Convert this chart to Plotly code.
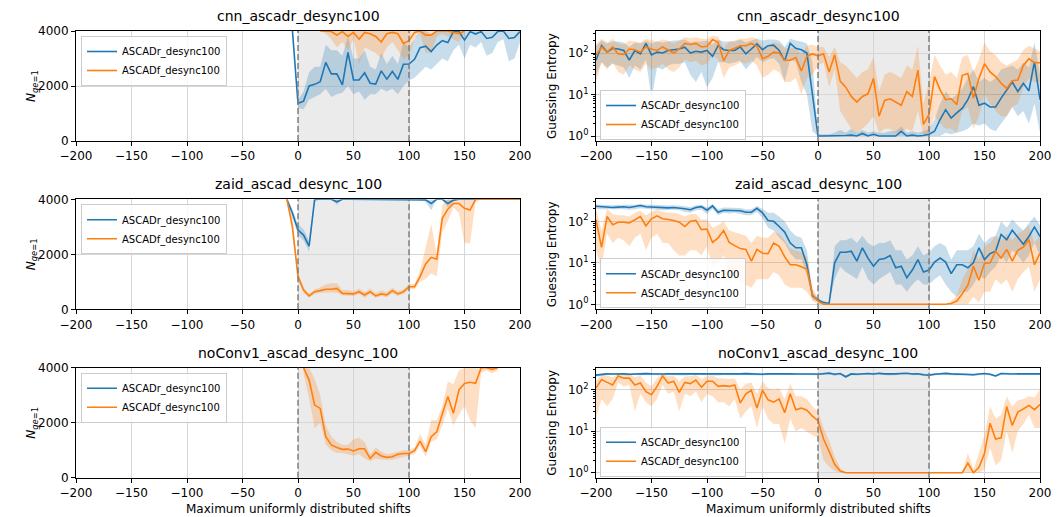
import numpy as np
import plotly.graph_objects as go

NA = None

SHIFTS = [-200, -195, -190, -185, -180, -175, -170, -165, -160, -155, -150, -145, -140, -135, -130,
          -125, -120, -115, -110, -105, -100, -95, -90, -85, -80, -75, -70, -65, -60, -55, -50, -45,
          -40, -35, -30, -25, -20, -15, -10, -5, 0, 5, 10, 15, 20, 25, 30, 35, 40, 45, 50, 55, 60, 65,
          70, 75, 80, 85, 90, 95, 100, 105, 110, 115, 120, 125, 130, 135, 140, 145, 150, 155, 160,
          165, 170, 175, 180, 185, 190, 195, 200]
X_TICKS = [-200, -150, -100, -50, 0, 50, 100, 150, 200]
X_TICK_TEXT = ["\u2212200", "\u2212150", "\u2212100", "\u221250", "0", "50", "100", "150", "200"]
N_TICKS = [0, 2000, 4000]
GE_TICKS = [1, 10, 100]
GE_TICK_TEXT = ["10<sup>0</sup>", "10<sup>1</sup>", "10<sup>2</sup>"]
GE_MINOR = [2, 3, 4, 5, 6, 7, 8, 9, 20, 30, 40, 50, 60, 70, 80, 90, 200, 300]
SERIES_NAMES = ["ASCADr_desync100", "ASCADf_desync100"]
TITLES = ["cnn_ascadr_desync100", "zaid_ascad_desync_100", "noConv1_ascad_desync_100"]

# ---------------- cnn : Guessing entropy ----------------
cnn_r_ge = [67, 152, 105, 130, 125, 115, 67, 115, 95, 170, 90, 105, 100, 115, 120, 125, 138, 100, 110, 105,
            115, 83, 150, 120, 115, 115, 140, 95, 125, 165, 120, 150, 155, 115, 65, 170, 130, 120, 100,
            8.9, 1.0,
            1.0, 1.0, 1.02, 1.0, 1.03, 1.05, 1.0, 1.15, 1.0, 1.1, 1.0, 1.0, 1.02, 1.0, 1.3, 1.0, 1.05, 1.0, 1.03,
            1.1, 1.3, 2.5, 4.3, 2.7, 3.6, 4.7, 7.5, 15.5, 5.5, 6.2, 5.0, 5.0, 8.2, 13, 20, 11.8, 18.6, 12.2, 61, 7.5]
cnn_r_ge_lo = [30, 60, 45, 55, 50, 45, 25, 50, 40, 70, 8, 45, 40, 50, 55, 55, 60, 30, 20, 35,
               15, 25, 60, 60, 55, 60, 65, 40, 55, 80, 60, 70, 75, 55, 20, 70, 60, 20, 10,
               1.3, 1.0,
               1, 1, 1, 1, 1, 1, 1, 1, 1, 1, 1, 1, 1, 1, 1, 1, 1, 1, 1,
               1, 1, 1, 1.2, 1.1, 1.2, 1.3, 1.5, 2, 1.8, 2, 1.5, 1.3, 2, 3, 5, 3, 4, 2, 6, 1.2]
cnn_r_ge_hi = [150, 200, 170, 190, 190, 180, 140, 180, 170, 200, 170, 190, 180, 190, 200, 200, 210, 180, 190, 190,
               200, 160, 210, 190, 190, 190, 210, 180, 200, 220, 200, 210, 210, 200, 140, 220, 200, 190, 170,
               60, 1.1,
               1.1, 1.1, 1.2, 1.4, 1.2, 1.5, 1.2, 1.4, 1.2, 1.3, 1.2, 1.2, 1.3, 1.3, 1.7, 1.2, 1.3, 1.2, 1.3,
               1.5, 2.5, 6, 12, 8, 10, 14, 25, 40, 20, 25, 20, 25, 40, 45, 50, 40, 60, 45, 180, 30]
cnn_f_ge = [88, 140, 105, 140, 95, 92, 125, 120, 105, 140, 125, 115, 140, 120, 100, 125, 170, 160, 170, 140,
            145, 210, 180, 65, 115, 130, 150, 150, 170, 145, 73, 83, 105, 100, 67, 67, 78, 37, 83, 95,
            85, 96, 35, 91, 21, 15, 9, 6.6, 9, 10.4, 24.5, 3.0, 7.2, 7.9, 6.6, 5.5, 11.8, 9, 38.6, 1.9,
            3.3, 27, 13, 7.5, 7.9, 5.7, 29, 32, 8.2, 24.5, 55, 35, 27, 18.6, 14, 21.5, 22.4, 50, 73, 58, 58]
cnn_f_ge_lo = [20, 60, 40, 60, 35, 30, 50, 40, 35, 55, 40, 45, 55, 40, 35, 45, 70, 60, 65, 50,
               55, 90, 70, 25, 45, 50, 60, 55, 65, 50, 25, 30, 40, 35, 20, 20, 25, 10, 25, 30,
               50, 60, 15, 40, 4, 2.5, 1.5, 1.2, 1.5, 2, 3, 1.2, 1.5, 1.5, 1.2, 1.3, 1.5, 1.3, 4, 1.0,
               1.2, 3, 2, 1.5, 1.5, 1.2, 4, 5, 1.5, 3, 10, 6, 4, 3, 3, 5, 6, 15, 25, 20, 20]
cnn_f_ge_hi = [160, 220, 180, 220, 170, 160, 200, 190, 180, 220, 200, 190, 210, 200, 170, 200, 240, 230, 240, 220,
               220, 260, 250, 130, 190, 200, 220, 220, 240, 220, 140, 150, 180, 170, 130, 130, 140, 90, 150, 160,
               140, 140, 80, 140, 60, 50, 35, 25, 35, 40, 80, 12, 30, 35, 30, 25, 50, 40, 150, 6,
               20, 90, 50, 30, 35, 25, 80, 90, 35, 70, 180, 110, 90, 60, 50, 60, 70, 120, 150, 130, 110]

# ---------------- cnn : N_ge=1 ----------------
cnn_r_n = [NA] * 39 + [4000] + [
    1370, 1450, 2000, 2060, 2160, 2860, 2440, 2440, 2040, 3220, 2220, 2220, 2480, 2100, 2070, 2550, 2250, 2530,
    2240, 2790, 2800, 2970, 3390, 3450, 3250, 3490, 3650, 3580, 3980, 3980, 3670, 3980, 3890, 3980, 3730, 3770,
    3980, 4000, 3730, 3760, 3980]
cnn_r_n_lo = [NA] * 39 + [4000] + [
    1200, 1150, 1500, 1600, 1700, 1900, 1600, 1700, 1750, 2000, 1700, 1800, 1500, 1700, 1700, 1900, 1800, 1900,
    1700, 2000, 2200, 2300, 2500, 2700, 2600, 2800, 3000, 2900, 3300, 3500, 3000, 3500, 3400, 3600, 3100, 3200,
    3600, 3700, 2900, 3000, 3600]
cnn_r_n_hi = [NA] * 39 + [4000] + [
    1500, 1800, 2500, 2700, 2700, 3500, 3300, 3300, 3100, 3800, 3000, 3000, 3300, 2700, 2600, 3200, 2800, 3100,
    2800, 3600, 3400, 3700, 4000, 4000, 3900, 4000, 4000, 4000, 4000, 4000, 4000, 4000, 4000, 4000, 4000, 4000,
    4000, 4000, 4000, 4000, 4000]
cnn_f_n = [NA] * 44 + [
    4000, 4000, 3980, 3850, 3980, 3800, 3950, 3700, 3950, 3900, 3800, 3600, 3900, 3950, 3900, 3550, 3650, 3950,
    4000, 3850, 3850, 4000, 4000, 4000, 3950, 3900, 4000] + [NA] * 10
cnn_f_n_lo = [NA] * 44 + [
    4000, 3900, 3700, 3400, 3600, 3300, 3700, 2800, 3400, 3300, 3200, 3000, 3400, 3600, 3300, 3000, 3100, 3700,
    3900, 3200, 3200, 3800, 3900, 3800, 3700, 3600, 3900] + [NA] * 10
cnn_f_n_hi = [NA] * 44 + [4000] * 27 + [NA] * 10

# ---------------- zaid : Guessing entropy ----------------
zaid_r_ge = [230, 225, 225, 215, 220, 225, 215, 225, 240, 225, 220, 215, 212, 210, 215, 210, 200, 190, 215, 225,
             185, 235, 165, 185, 185, 185, 180, 165, 165, 205, 160, 105, 100, 75, 55, 30, 23, 23, 9, 1.6,
             1.27, 1.1, 1.05, 10, 18, 18, 19, 11, 23, 13, 8.3, 12, 12.7, 15, 7.6, 8.3, 4.4, 6.7, 12, 6,
             6.7, 10.4, 13, 10.4, 5.5, 9, 9, 7.6, 10, 23, 12, 16.7, 19, 48, 36, 61, 40, 28, 43, 73, 43]
zaid_r_ge_lo = [200, 195, 195, 190, 195, 195, 190, 195, 205, 195, 195, 190, 185, 185, 190, 185, 170, 160, 185, 190,
                150, 200, 140, 160, 155, 160, 150, 140, 140, 170, 120, 70, 60, 40, 30, 17, 12, 12, 5, 1.3,
                1.15, 1.05, 1.0, 4, 8, 6, 5, 4, 8, 4, 3, 4, 5, 6, 3, 3, 2, 3, 4, 3,
                3, 4, 5, 3, 2, 1.5, 2, 2, 3, 5, 4, 6, 8, 15, 10, 20, 15, 10, 15, 30, 15]
zaid_r_ge_hi = [255, 250, 250, 245, 250, 250, 245, 250, 265, 250, 250, 245, 240, 240, 245, 240, 230, 220, 245, 250,
                215, 260, 195, 215, 215, 215, 210, 195, 195, 235, 200, 160, 160, 130, 100, 60, 45, 40, 20, 2,
                1.4, 1.2, 1.1, 25, 35, 35, 40, 30, 45, 30, 25, 30, 30, 35, 20, 20, 12, 15, 25, 15,
                18, 25, 30, 25, 12, 20, 20, 20, 25, 50, 30, 40, 45, 100, 70, 110, 80, 60, 90, 130, 80]
zaid_f_ge = [110, 23.5, 130, 83, 95, 95, 91, 110, 130, 78, 115, 135, 115, 110, 105, 95, 75, 100, 105, 63,
             65, 31, 40, 60, 31, 26, 22, 21, 11, 21, 17, 16.7, 30, 25, 14, 9, 9, 8, 7, 1.7,
             1.2] + [1.0] * 23 + [
             1.05, 1.2, 1.8, 2.9, 8.3, 3.8, 9.7, 10, 19, 13, 21, 11, 20, 24, 36, 9, 17]
zaid_f_ge_lo = [20, 8, 50, 30, 40, 35, 25, 40, 50, 20, 40, 50, 30, 30, 20, 15, 15, 20, 20, 15,
                25, 8, 10, 15, 5, 4, 3.5, 3, 2.5, 4, 4, 4, 6, 5, 3, 2.5, 2.5, 2.5, 2, 1.2,
                1.0] + [1.0] * 23 + [
                1.0, 1.0, 1.0, 1.0, 1.5, 1.1, 2, 2, 4, 3, 4, 2, 4, 6, 8, 2, 4]
zaid_f_ge_hi = [200, 60, 200, 150, 140, 140, 130, 160, 180, 140, 170, 190, 170, 160, 160, 150, 130, 150, 150, 110,
                110, 70, 80, 100, 60, 55, 50, 45, 30, 45, 40, 40, 55, 50, 35, 22, 20, 18, 14, 2.5,
                1.4] + [1.02] * 23 + [
                1.2, 1.6, 4, 7, 20, 12, 25, 30, 45, 35, 50, 35, 50, 60, 80, 30, 45]

# ---------------- zaid : N_ge=1 ----------------
zaid_r_n = [NA] * 38 + [4000, 3490] + [
    2880, 2700, 2300, 4000, 4000, 4000, 4000, 3910] + [4000] * 15 + [
    3980, 3850, 4000, 4000, 3850, 3970] + [4000] * 12
zaid_r_n_lo = [NA] * 38 + [4000, 3300] + [
    2700, 2500, 2100, 3900, 4000, 4000, 4000, 3800] + [4000] * 15 + [
    3900, 3600, 4000, 4000, 3700, 3900] + [4000] * 12
zaid_r_n_hi = [NA] * 38 + [4000, 3650] + [
    3100, 2900, 2500, 4000, 4000, 4000, 4000, 4000] + [4000] * 15 + [
    4000, 4000, 4000, 4000, 4000, 4000] + [4000] * 12
zaid_f_n = [NA] * 38 + [4000, 3000] + [
    1190, 700, 485, 640, 680, 730, 730, 760, 580, 580, 560, 640, 520, 640, 485, 560, 520, 680, 560, 640,
    820, 820, 1190, 1650, 1890, 1820, 3310, 3640, 3850, 3850, 3670, 3610, 4000, 4000, 4000, 4000, 4000, 4000,
    4000, 4000, 4000]
zaid_f_n_lo = [NA] * 38 + [4000, 2700] + [
    1050, 600, 420, 560, 600, 600, 620, 600, 500, 500, 480, 560, 420, 560, 420, 480, 440, 580, 480, 560,
    720, 720, 1000, 1100, 1300, 1200, 2800, 3200, 3700, 3500, 2400, 2400, 3900, 4000, 4000, 4000, 4000, 4000,
    4000, 4000, 4000]
zaid_f_n_hi = [NA] * 38 + [4000, 3300] + [
    1350, 800, 560, 720, 800, 900, 950, 950, 700, 700, 650, 760, 620, 760, 580, 680, 620, 780, 660, 720,
    920, 920, 1400, 2300, 3100, 2000, 3800, 4000, 4000, 4000, 4000, 4000, 4000, 4000, 4000, 4000, 4000, 4000,
    4000, 4000, 4000]

# ---------------- noConv1 : Guessing entropy ----------------
noconv_r_ge = [225, 235, 240, 238, 242, 240, 236, 240, 238, 244, 240, 236, 238, 240, 242, 238, 236, 240, 243, 240,
               238, 240, 237, 240, 242, 238, 240, 244, 240, 238, 236, 240, 242, 240, 238, 240, 239, 241, 240, 238,
               236, 245, 250, 235, 245, 205, 240, 235, 240, 245, 238, 248, 240, 236, 240, 245, 250, 238, 242, 230,
               225, 235, 245, 248, 240, 236, 242, 238, 230, 238, 245, 236, 214, 245, 240, 238, 242, 240, 238, 240, 240]
noconv_r_ge_lo = [205, 220, 225, 222, 228, 226, 220, 225, 222, 230, 226, 220, 222, 225, 228, 222, 220, 225, 228, 226,
                  222, 226, 221, 225, 228, 222, 225, 230, 226, 222, 220, 225, 228, 225, 222, 226, 224, 226, 225, 222,
                  220, 230, 235, 215, 230, 190, 225, 220, 225, 230, 222, 233, 225, 220, 225, 230, 235, 222, 227, 215,
                  210, 220, 230, 233, 225, 220, 227, 222, 215, 222, 230, 220, 200, 230, 225, 222, 227, 225, 222, 225, 225]
noconv_r_ge_hi = [240, 248, 252, 250, 254, 252, 248, 252, 250, 256, 252, 248, 250, 252, 254, 250, 248, 252, 255, 252,
                  250, 252, 249, 252, 254, 250, 252, 256, 252, 250, 248, 252, 254, 252, 250, 252, 251, 253, 252, 250,
                  248, 256, 256, 248, 256, 220, 252, 248, 252, 256, 250, 256, 252, 248, 252, 256, 256, 250, 254, 244,
                  238, 248, 256, 256, 252, 248, 254, 250, 244, 250, 256, 248, 228, 256, 252, 250, 254, 252, 250, 252, 252]
noconv_f_ge = [110, 175, 150, 130, 215, 190, 190, 130, 145, 90, 76, 120, 215, 145, 160, 86, 150, 140, 170, 115,
               160, 160, 120, 125, 120, 130, 48, 80, 97, 36, 97, 57, 50, 60, 28, 80, 33, 36, 32, 23,
               18, 6.5, 3.3, 1.6, 1.1] + [1.0] * 22 + [
               1.7, 1.0, 1.35, 2.9, 15.6, 6.5, 6.9, 39.5, 13.7, 28.8, 34.6, 41.7, 33, 44]
noconv_f_ge_lo = [20, 60, 40, 60, 150, 120, 130, 30, 80, 50, 40, 60, 130, 80, 90, 30, 80, 70, 90, 50,
                  80, 70, 50, 50, 40, 60, 20, 30, 40, 12, 40, 20, 15, 15, 5, 20, 10, 12, 10, 8,
                  7, 2, 1.4, 1.1, 1.0] + [1.0] * 22 + [
                  1.0, 1.0, 1.0, 1.2, 4, 1.5, 2, 10, 3, 10, 15, 25, 12, 12]
noconv_f_ge_hi = [160, 230, 220, 200, 240, 240, 240, 200, 220, 150, 120, 190, 245, 210, 220, 160, 210, 210, 230, 180,
                  210, 220, 190, 190, 180, 190, 100, 140, 150, 80, 160, 110, 100, 110, 60, 140, 70, 70, 60, 40,
                  30, 12, 6, 2.5, 1.3] + [1.02] * 22 + [
                  3, 1.2, 3, 8, 40, 20, 25, 70, 40, 55, 60, 70, 65, 100]

# ---------------- noConv1 : N_ge=1 ----------------
noconv_r_n = [NA] * 81
noconv_r_n_lo = [NA] * 81
noconv_r_n_hi = [NA] * 81
noconv_f_n = [NA] * 41 + [
    4000, 3550, 2640, 2520, 1490, 1190, 1100, 1030, 1040, 970, 1050, 1050, 700, 920, 790, 740, 760, 850, 880, 880,
    980, 1330, 945, 1490, 1670, 2280, 2950, 2340, 3190, 3430, 3470, 3430, 4000, 4000, 3940, 4000] + [NA] * 4
noconv_f_n_lo = [NA] * 41 + [
    3800, 2900, 1800, 2000, 1200, 1000, 900, 900, 850, 800, 850, 700, 600, 700, 650, 650, 650, 700, 750, 800,
    850, 1150, 750, 1300, 1400, 1900, 2500, 1900, 2300, 2600, 2100, 1800, 3800, 3900, 3800, 3900] + [NA] * 4
noconv_f_n_hi = [NA] * 41 + [
    4000, 4000, 3600, 3000, 1900, 1500, 1300, 1200, 1200, 1400, 1450, 1300, 850, 1100, 950, 850, 900, 950, 1000, 1000,
    1100, 1600, 1200, 2100, 2100, 2600, 3500, 3400, 3900, 4000, 4000, 4000, 4000, 4000, 4000, 4000] + [NA] * 4

# ------------------------------------------------------------------
_all = {k: v for k, v in dict(globals()).items() if isinstance(v, list) and k.endswith(("_ge", "_lo", "_hi", "_n"))}
for k, v in _all.items():
    assert len(v) == len(SHIFTS), (k, len(v))

COLORS = ["#1f77b4", "#ff7f0e"]
FILLS = ["rgba(31,119,180,0.25)", "rgba(255,127,14,0.25)"]
FONT = "DejaVu Sans, Verdana, sans-serif"
W, H = 1064, 517

# panel layout (pixels)
COL_X = [(76, 520), (596, 1040)]
ROW_Y = [(31, 141), (199.3, 309.3), (367.7, 477.7)]

panels = [
    ("n", [(cnn_r_n, cnn_r_n_lo, cnn_r_n_hi), (cnn_f_n, cnn_f_n_lo, cnn_f_n_hi)]),
    ("ge", [(cnn_r_ge, cnn_r_ge_lo, cnn_r_ge_hi), (cnn_f_ge, cnn_f_ge_lo, cnn_f_ge_hi)]),
    ("n", [(zaid_r_n, zaid_r_n_lo, zaid_r_n_hi), (zaid_f_n, zaid_f_n_lo, zaid_f_n_hi)]),
    ("ge", [(zaid_r_ge, zaid_r_ge_lo, zaid_r_ge_hi), (zaid_f_ge, zaid_f_ge_lo, zaid_f_ge_hi)]),
    ("n", [(noconv_r_n, noconv_r_n_lo, noconv_r_n_hi), (noconv_f_n, noconv_f_n_lo, noconv_f_n_hi)]),
    ("ge", [(noconv_r_ge, noconv_r_ge_lo, noconv_r_ge_hi), (noconv_f_ge, noconv_f_ge_lo, noconv_f_ge_hi)]),
]


def arr(v):
    return np.array([np.nan if a is None else a for a in v], dtype=float)


def runs(mask):
    out, start = [], None
    for i, m in enumerate(mask):
        if m and start is None:
            start = i
        if not m and start is not None:
            out.append((start, i))
            start = None
    if start is not None:
        out.append((start, len(mask)))
    return out


fig = go.Figure()
xs = np.array(SHIFTS, dtype=float)
shapes, annotations = [], []
layout = {}

for k, (kind, series) in enumerate(panels):
    r, c = k // 2, k % 2
    sfx = "" if k == 0 else str(k + 1)
    xa, ya = "x" + sfx, "y" + sfx
    leg = "legend" + sfx
    for s, (m, lo, hi) in enumerate(series):
        lo_a, hi_a = arr(lo), arr(hi)
        ok = ~np.isnan(lo_a) & ~np.isnan(hi_a)
        for a, b in runs(ok):
            px = np.concatenate([xs[a:b], xs[a:b][::-1]])
            py = np.concatenate([hi_a[a:b], lo_a[a:b][::-1]])
            fig.add_trace(go.Scatter(x=px, y=py, mode="lines", fill="toself", fillcolor=FILLS[s],
                                     line=dict(width=0), hoverinfo="skip", showlegend=False,
                                     xaxis=xa, yaxis=ya))
    for s, (m, lo, hi) in enumerate(series):
        fig.add_trace(go.Scatter(x=xs, y=arr(m), mode="lines", name=SERIES_NAMES[s],
                                 line=dict(color=COLORS[s], width=1.6), connectgaps=False,
                                 xaxis=xa, yaxis=ya, legend=leg, showlegend=True))

    x0, x1 = COL_X[c]
    y0, y1 = ROW_Y[r]
    axis_common = dict(showline=True, linecolor="black", linewidth=1, mirror=True,
                       ticks="outside", ticklen=4, tickwidth=1, tickcolor="black",
                       showgrid=True, gridcolor="#d6d6d6", gridwidth=1, zeroline=False,
                       automargin=False,
                       tickfont=dict(family=FONT, size=12, color="black"))
    layout["xaxis" + sfx] = dict(domain=[x0 / W, x1 / W], anchor=ya, range=[-200, 200],
                                 tickmode="array", tickvals=X_TICKS, ticktext=X_TICK_TEXT, **axis_common)
    if kind == "n":
        layout["yaxis" + sfx] = dict(domain=[1 - y1 / H, 1 - y0 / H], anchor=xa, range=[0, 4000],
                                     tickmode="array", tickvals=N_TICKS,
                                     ticktext=[str(v) for v in N_TICKS], **axis_common)
        layout[leg] = dict(x=(x0 + 5) / W, y=1 - (y0 + 5) / H, xanchor="left", yanchor="top")
    else:
        layout["yaxis" + sfx] = dict(domain=[1 - y1 / H, 1 - y0 / H], anchor=xa, type="log",
                                     range=[-0.12, 2.53], tickmode="array", tickvals=GE_TICKS,
                                     ticktext=GE_TICK_TEXT,
                                     minor=dict(tickmode="array", tickvals=GE_MINOR, ticks="outside",
                                                ticklen=2, tickcolor="black", showgrid=False),
                                     **axis_common)
        layout[leg] = dict(x=(x0 + 4) / W, y=1 - (y1 - 1) / H, xanchor="left", yanchor="bottom")
    layout[leg].update(bgcolor="rgba(255,255,255,0.85)", bordercolor="#cccccc", borderwidth=1,
                       font=dict(family=FONT, size=10, color="black"), tracegroupgap=0,
                       itemwidth=30)

    shapes.append(dict(type="rect", xref=xa, yref=ya + " domain", x0=0, x1=100, y0=0, y1=1,
                       fillcolor="#ebebeb", line=dict(width=0), layer="below"))
    for xv in (0, 100):
        shapes.append(dict(type="line", xref=xa, yref=ya + " domain", x0=xv, x1=xv, y0=0, y1=1,
                           line=dict(color="#808080", width=1.5, dash="6px,3px"), layer="above"))

    annotations.append(dict(text=TITLES[r], xref="paper", yref="paper", x=(x0 + x1) / 2 / W,
                            y=1 - (y0 - 15) / H, xanchor="center", yanchor="middle", showarrow=False,
                            font=dict(family=FONT, size=14, color="black")))
    ylab = "<i>N</i><sub><i>ge</i>=1</sub>" if kind == "n" else "Guessing Entropy"
    annotations.append(dict(text=ylab, xref="paper", yref="paper",
                            x=(x0 - 44) / W, y=1 - (y0 + y1) / 2 / H,
                            xanchor="center", yanchor="middle", textangle=-90, showarrow=False,
                            font=dict(family=FONT, size=12, color="black")))
    if r == 2:
        annotations.append(dict(text="Maximum uniformly distributed shifts", xref="paper", yref="paper",
                                x=(x0 + x1) / 2 / W, y=1 - 509 / H, xanchor="center", yanchor="middle",
                                showarrow=False, font=dict(family=FONT, size=12, color="black")))

fig.update_layout(width=W, height=H, margin=dict(l=0, r=0, t=0, b=0, autoexpand=False),
                  paper_bgcolor="white", plot_bgcolor="white", shapes=shapes, annotations=annotations,
                  font=dict(family=FONT, color="black"), hovermode=False, **layout)
fig.write_html("out.html", config={"displayModeBar": False, "staticPlot": True},
               post_script="document.body.style.margin='0px';document.body.style.overflow='hidden';")
